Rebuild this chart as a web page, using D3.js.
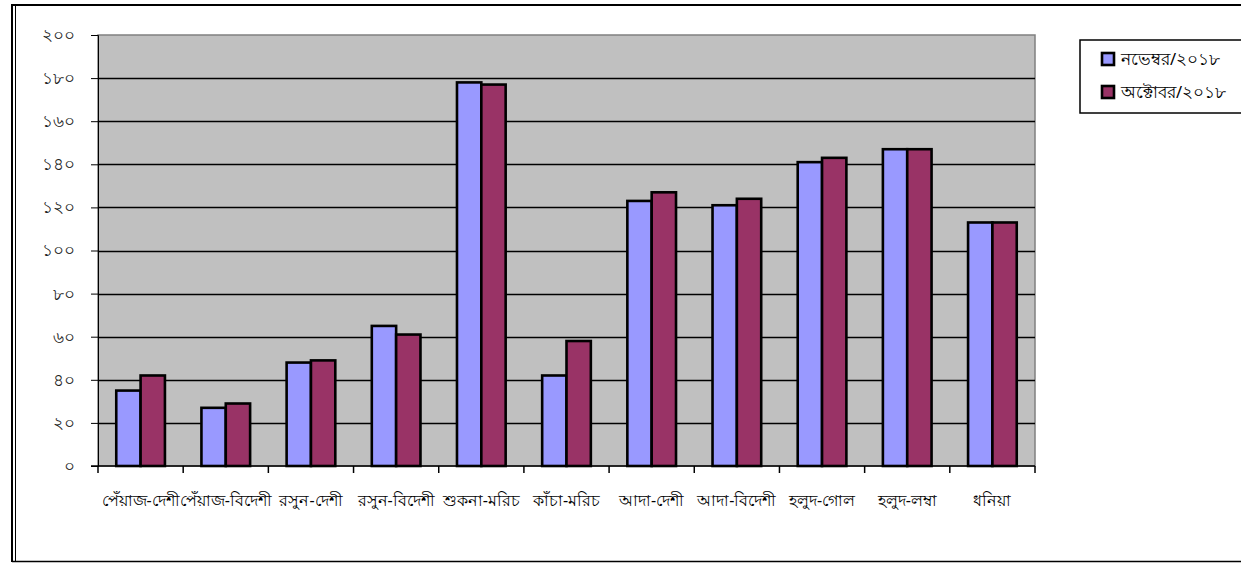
<!DOCTYPE html>
<html>
<head>
<meta charset="utf-8">
<script src="https://d3js.org/d3.v7.min.js"></script>
<style>
  body { margin: 0; background: #fff; }
  text { font-family: "Noto Sans", "DejaVu Sans", sans-serif; }
</style>
</head>
<body>
<svg id="chart" width="1241" height="563"></svg>
<script>
// data
var categories = ["পেঁয়াজ-দেশী", "পেঁয়াজ-বিদেশী", "রসুন-দেশী", "রসুন-বিদেশী", "শুকনা-মরিচ",
  "কাঁচা-মরিচ", "আদা-দেশী", "আদা-বিদেশী", "হলুদ-গোল", "হলুদ-লম্বা", "ধনিয়া"];
var seriesNames = ["নভেম্বর/২০১৮", "অক্টোবর/২০১৮"];
var november = [35, 27, 48, 65, 178, 42, 123, 121, 141, 147, 113];
var october = [42, 29, 49, 61, 177, 58, 127, 124, 143, 147, 113];
var yTicks = [0, 20, 40, 60, 80, 100, 120, 140, 160, 180, 200];
var yTickLabels = ["০", "২০", "৪০", "৬০", "৮০", "১০০", "১২০", "১৪০", "১৬০", "১৮০", "২০০"];
var colors = ["#9999FF", "#993366"];

var svg = d3.select("#chart");
var plotL = 98, plotR = 1035, plotT = 35, plotB = 466;

// outer frame
svg.append("line").attr("x1", 12).attr("y1", 5).attr("x2", 1241).attr("y2", 5)
  .attr("stroke", "#000").attr("stroke-width", 2);
svg.append("line").attr("x1", 12).attr("y1", 561.5).attr("x2", 1241).attr("y2", 561.5)
  .attr("stroke", "#000").attr("stroke-width", 1.5);
svg.append("line").attr("x1", 12).attr("y1", 4).attr("x2", 12).attr("y2", 562)
  .attr("stroke", "#000").attr("stroke-width", 2);
svg.append("line").attr("x1", 15.5).attr("y1", 6).attr("x2", 15.5).attr("y2", 561)
  .attr("stroke", "#000").attr("stroke-width", 1);

var x0 = d3.scaleBand().domain(categories).range([plotL, plotR]).paddingInner(0).paddingOuter(0);
var bw = x0.bandwidth() / 3.5;
var y = d3.scaleLinear().domain([0, 200]).range([plotB, plotT]);

// plot area
svg.append("rect").attr("x", plotL).attr("y", plotT)
  .attr("width", plotR - plotL).attr("height", plotB - plotT)
  .attr("fill", "#C0C0C0").attr("stroke", "#808080").attr("stroke-width", 1.5);

// gridlines
svg.append("g").selectAll("line").data(yTicks.slice(1, -1)).enter().append("line")
  .attr("x1", plotL).attr("x2", plotR)
  .attr("y1", function(d) { return Math.round(y(d)) + 0.5; })
  .attr("y2", function(d) { return Math.round(y(d)) + 0.5; })
  .attr("stroke", "#000").attr("stroke-width", 1.5);

// y axis
var yAxis = d3.axisLeft(y).tickValues(yTicks).tickSize(7).tickPadding(16)
  .tickFormat(function(d, i) { return yTickLabels[i]; });
var gy = svg.append("g").attr("transform", "translate(" + plotL + ",0)").call(yAxis);
gy.select(".domain").attr("stroke", "#000");
gy.selectAll(".tick line").attr("stroke", "#000");
gy.selectAll("text").attr("font-size", 17).attr("fill", "#222")
  .style("font-family", "'Noto Sans', sans-serif");

// bars
var groups = svg.append("g").selectAll("g").data(categories).enter().append("g")
  .attr("transform", function(d) { return "translate(" + x0(d) + ",0)"; });
groups.append("rect")
  .attr("x", bw * 0.75).attr("width", bw)
  .attr("y", function(d, i) { return y(november[i]); })
  .attr("height", function(d, i) { return plotB - y(november[i]); })
  .attr("fill", colors[0]).attr("stroke", "#000").attr("stroke-width", 2.6);
groups.append("rect")
  .attr("x", bw * 1.75).attr("width", bw)
  .attr("y", function(d, i) { return y(october[i]); })
  .attr("height", function(d, i) { return plotB - y(october[i]); })
  .attr("fill", colors[1]).attr("stroke", "#000").attr("stroke-width", 2.6);

// x axis
var xTickPos = categories.map(function(c) { return x0(c); }).concat([plotR]);
svg.append("line").attr("x1", plotL - 7).attr("x2", plotR).attr("y1", plotB).attr("y2", plotB)
  .attr("stroke", "#000").attr("stroke-width", 1.5);
svg.append("g").selectAll("line").data(xTickPos).enter().append("line")
  .attr("x1", function(d) { return d; }).attr("x2", function(d) { return d; })
  .attr("y1", plotB).attr("y2", plotB + 7)
  .attr("stroke", "#000").attr("stroke-width", 1.5);
svg.append("g").selectAll("text").data(categories).enter().append("text")
  .attr("x", function(d) { return x0(d) + x0.bandwidth() / 2; })
  .attr("y", 506)
  .attr("text-anchor", "middle")
  .attr("font-size", 16)
  .attr("fill", "#000")
  .text(function(d) { return d; });

// legend
var legend = svg.append("g");
legend.append("rect").attr("x", 1080).attr("y", 40).attr("width", 170).attr("height", 73)
  .attr("fill", "#fff").attr("stroke", "#000").attr("stroke-width", 1.5);
seriesNames.forEach(function(name, i) {
  legend.append("rect").attr("x", 1102).attr("y", 53 + i * 33).attr("width", 12).attr("height", 12)
    .attr("fill", colors[i]).attr("stroke", "#000").attr("stroke-width", 2.6);
  legend.append("text").attr("x", 1121).attr("y", 65 + i * 33)
    .attr("font-size", 16.5).attr("fill", "#000").text(name);
});
</script>
</body>
</html>
